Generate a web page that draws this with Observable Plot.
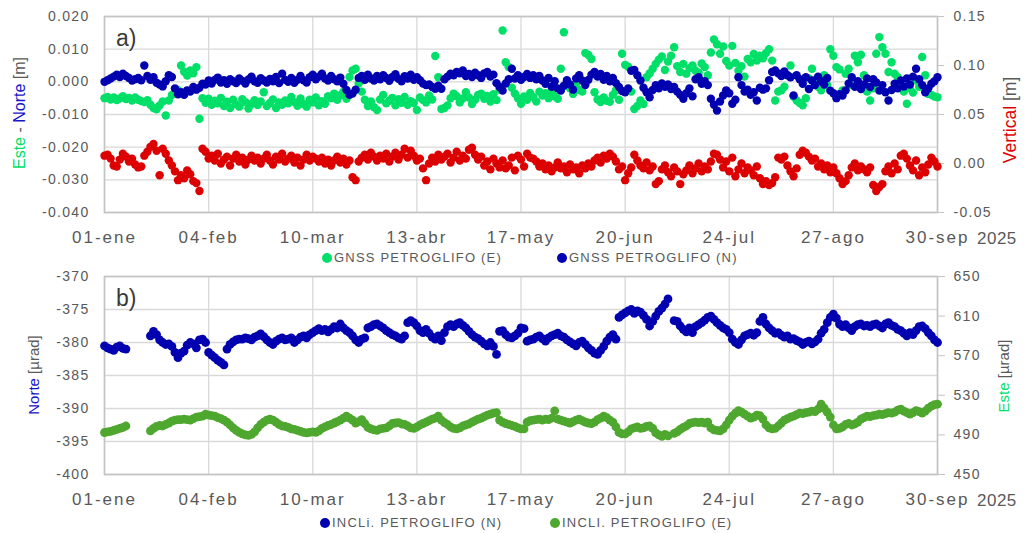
<!DOCTYPE html>
<html><head><meta charset="utf-8">
<script src="https://cdn.jsdelivr.net/npm/d3@7"></script>
<script src="https://cdn.jsdelivr.net/npm/@observablehq/plot@0.6"></script>
<style>
body{margin:0;background:#fff;font-family:"Liberation Sans",Arial,sans-serif;}
#wrap{position:relative;width:1026px;height:533px;overflow:hidden;background:#fff;}
.panel{position:absolute;left:0;}
.ov{position:absolute;white-space:nowrap;color:#595959;}
.rot{transform:translate(-50%,-50%) rotate(-90deg);}
.leg{position:absolute;font-size:13px;letter-spacing:1.2px;color:#595959;line-height:14px;transform:translateY(-50%);white-space:nowrap;}
.dotk{position:absolute;width:10px;height:10px;border-radius:50%;transform:translate(-50%,-50%);}
</style>
</head><body>
<div id="wrap"></div>
<script>
// ---------- x axis ----------
const tickDates = ["2025-01-01","2025-02-04","2025-03-10","2025-04-13","2025-05-17","2025-06-20","2025-07-24","2025-08-27","2025-09-30"];
const tickLabels = ["01-ene","04-feb","10-mar","13-abr","17-may","20-jun","24-jul","27-ago","30-sep"];

// ---------- panel a: GNSS (mm; E and N on left axis, Vertical on right axis) ----------
const gnssE = [
-5.0,-4.6,-5.4,-4.8,-5.6,-5.1,-4.4,-5.3,-4.9,-5.7,
-4.8,-5.5,-5.9,-6.2,-5.6,-7.0,-8.0,-8.4,-7.2,-6.0,
-10.3,-5.7,-4.0,-3.2,-2.5,5.0,3.1,1.9,3.5,2.6,
4.5,-11.3,-5.0,-6.4,-5.2,-7.0,-5.8,-6.6,-4.9,-7.4,
-6.1,-8.0,-5.5,-6.9,-7.6,-5.3,-6.2,-8.2,-6.8,-5.6,
-7.1,-6.0,-3.2,-7.4,-6.5,-5.4,-8.0,-6.3,-7.0,-5.7,
-6.6,-4.6,-6.2,-7.3,-5.1,-6.8,-7.6,-5.5,-6.3,-4.8,
-7.2,-5.9,-6.7,-4.4,-5.0,-3.6,-5.5,-4.1,-3.0,-5.2,
1.5,3.5,4.0,-0.5,-3.0,-5.5,-7.4,-6.0,-7.8,-8.6,
-5.4,-4.0,-6.6,-5.8,-4.9,-7.2,-5.3,-6.4,-4.6,-7.0,
-5.9,-6.5,-8.6,-4.8,-5.6,-6.3,-4.2,-5.4,7.9,1.4,
-8.3,-8.0,-7.2,-5.0,-3.6,-4.4,-6.3,-5.1,-3.2,-4.8,
-6.8,-5.5,-4.0,-3.6,-5.2,-4.3,-6.0,-3.8,-5.6,-2.4,
15.7,6.0,4.5,-1.8,-3.6,-5.0,-6.7,-4.5,-5.5,-3.4,
-4.6,-6.0,-3.0,-4.2,-3.5,-5.0,-2.8,-4.4,-5.2,4.0,
15.2,-0.5,-2.0,-3.7,-1.2,-2.5,-3.0,8.8,8.2,7.0,
-3.2,-5.4,-6.2,-4.8,-5.8,-6.1,-4.0,-2.6,-5.5,8.6,
5.2,4.6,-3.0,-8.3,-7.4,-5.7,-6.8,1.4,2.6,4.0,
5.5,6.8,7.8,3.6,6.2,8.0,10.6,4.8,3.0,5.5,
2.5,4.2,5.0,3.4,2.8,5.6,4.5,2.0,9.0,13.0,
11.5,8.6,10.8,6.4,5.0,11.0,5.8,3.4,4.8,1.6,
7.0,6.0,8.5,6.5,8.0,7.2,8.8,10.0,6.5,-5.7,
-3.0,-2.6,-1.5,2.0,5.0,-4.5,-5.7,-6.5,-7.2,-5.0,
1.0,4.0,0.5,-1.5,-2.6,2.0,-1.0,10.0,8.0,4.5,
3.8,-2.6,2.5,4.0,-1.0,8.0,6.0,8.3,2.0,-3.0,
-5.7,-2.0,8.6,13.7,10.6,8.6,3.0,6.0,2.5,1.4,
-1.5,-3.0,-6.7,-2.0,-3.3,0.5,-1.5,7.6,2.0,-3.7,
-4.0,-4.5,-4.7];

const gnssN = [
0.0,0.5,1.0,1.6,2.2,1.5,2.5,1.8,1.2,0.4,
0.8,1.2,0.5,5.0,1.8,0.6,1.4,-0.3,-0.8,-1.4,
0.2,2.0,1.5,-2.0,-3.8,-3.2,-4.0,-2.6,-3.0,-1.6,
-2.4,-1.8,-0.6,-0.8,0.4,-0.5,0.6,1.3,-0.2,0.5,
-0.6,0.8,0.2,-0.4,1.0,0.3,-0.5,0.7,1.6,0.2,
-0.3,1.1,0.4,-0.2,0.9,0.2,1.5,-0.4,2.5,0.6,
0.0,1.2,-0.3,0.6,1.8,0.5,-0.2,1.4,2.2,0.8,
1.6,2.5,1.0,0.4,1.8,0.8,0.2,1.3,-0.6,-2.5,
-4.0,-3.6,-2.4,1.2,1.8,0.6,2.2,1.0,0.4,1.8,
0.8,2.0,1.2,0.3,1.5,2.3,0.9,0.2,1.7,1.0,
2.2,0.6,1.4,0.5,-0.5,-1.0,-0.8,-1.6,-2.1,-1.2,
-2.1,0.8,1.6,2.5,2.0,3.0,2.6,3.5,1.8,2.4,
1.5,2.8,2.0,1.2,2.6,3.0,1.6,2.2,-0.4,-1.6,
-2.7,-0.5,0.8,4.0,1.0,2.0,0.6,1.5,2.4,1.2,
2.0,0.8,1.8,0.4,-0.6,1.2,-1.5,0.2,-2.0,-2.7,
-1.2,0.5,-0.8,-2.4,1.0,2.0,0.4,-1.0,0.6,2.2,
3.0,1.6,2.4,0.6,1.8,0.2,1.2,-0.4,-1.6,-2.8,
-3.2,-2.0,3.4,3.6,2.0,0.4,-1.8,-3.2,-4.7,-2.5,
-1.0,-2.0,-0.5,-1.5,-0.8,-2.2,-1.6,-3.0,-4.0,-5.2,
-3.5,-2.0,-4.4,0.8,1.4,-0.6,0.2,-1.0,-5.2,-7.0,
-8.8,-6.0,-4.2,-2.6,-3.5,-6.7,-5.5,1.4,-1.0,-3.0,
-2.4,-4.0,-3.2,-5.7,-1.8,-2.4,-2.0,0.5,3.0,3.5,
2.6,1.8,3.2,2.0,1.4,-4.2,2.0,0.8,-0.6,1.4,
-2.2,0.4,-1.0,1.6,0.2,-0.8,1.2,-2.7,-3.5,-5.0,
-3.8,-4.2,-2.6,-0.5,1.4,-1.5,0.2,-2.2,-0.8,1.0,
-1.6,0.8,-0.2,-2.7,-1.0,-3.2,-5.7,-2.5,-0.6,-2.0,
0.4,-1.4,1.0,-0.8,1.6,4.0,0.8,-1.0,-3.2,-2.0,
-0.6,0.2,1.4];

const gnssV = [
8,9,5,-2,-3,4,10,7,2,5,
-1,-4,-3,8,12,17,20,13,-12,15,
10,3,-2,-8,-17,-12,-15,-7,-11,-18,
-20,-28,15,12,5,8,3,10,0,4,
7,-2,5,9,2,6,-1,4,8,3,
6,0,5,9,3,-1,7,4,10,2,
5,8,1,6,-2,4,9,3,7,5,
2,6,0,4,-2,3,7,1,5,-1,
3,-14,-17,2,6,9,4,11,7,3,
8,5,10,2,7,11,4,9,15,6,
13,8,3,5,-5,-17,0,6,2,9,
4,7,10,1,6,12,3,8,5,14,
16,9,4,7,-2,2,-6,5,0,-4,
3,-5,-2,6,-7,8,4,-3,10,6,
5,2,-3,0,-6,-2,-8,-4,1,-5,
-3,-9,-1,-6,-4,-10,-2,-5,0,-3,
3,6,1,8,5,10,7,2,-6,-3,
-17,-10,-4,9,3,-2,-5,1,-7,-3,
-21,-18,-6,-2,-9,-13,-4,-8,-21,-11,
-7,-2,-10,-5,0,-8,-3,-6,2,10,
9,4,-4,2,-8,6,-13,-6,0,-10,
-4,-7,-12,-3,-15,-21,-18,-22,-20,-14,
6,4,7,-2,-8,-13,-5,9,13,11,
7,3,5,-3,0,-6,-2,-9,-4,-10,
-15,-21,-18,-12,-4,0,-7,-3,-6,-9,
-4,-22,-28,-24,-21,-8,-3,-10,0,-6,
8,10,5,-2,-7,3,-12,-4,-9,-1,
6,2,-3];

const leftTicksA = [-0.040,-0.030,-0.020,-0.010,0.000,0.010,0.020];
const rightTicksA = [-0.05,0.00,0.05,0.10,0.15];

// ---------- panel b: inclinometer (µrad; N left axis, E right axis) ----------
const inclN = [
-380.5,-380.8,-381.0,-381.2,-380.7,-380.5,-380.9,-381.0,null,null,
null,null,null,null,null,-379.0,-378.3,-378.8,-379.6,-380.0,
-380.3,-380.2,-380.6,-381.5,-382.3,-381.6,-381.3,-380.4,-380.0,-380.2,
-380.8,-379.6,-379.5,-380.0,-381.5,-381.9,-382.3,-382.7,-383.0,-383.4,
-381.0,-380.3,-379.9,-379.6,-379.5,-379.5,-379.3,-379.4,-379.6,-379.2,
-379.0,-378.7,-379.1,-379.6,-380.0,-380.3,-379.8,-379.5,-379.3,-379.6,
-379.5,-379.3,-380.0,-379.6,-379.2,-379.0,-379.3,-378.8,-378.5,-378.2,
-377.9,-378.2,-378.0,-378.4,-378.0,-377.6,-377.8,-377.2,-377.8,-378.2,
-378.5,-379.0,-379.6,-380.0,-379.5,-379.3,-377.8,-377.6,-377.3,-377.2,
-377.5,-377.8,-378.2,-378.5,-378.8,-379.0,-379.3,-379.5,-379.0,-377.0,
-376.7,-377.0,-377.5,-378.2,-378.5,-378.0,-378.6,-379.2,-379.5,-379.0,
-379.7,-378.5,-377.6,-377.3,-377.6,-377.2,-377.0,-377.4,-377.8,-378.3,
-378.8,-379.2,-379.4,-379.8,-380.2,-380.5,-380.0,-380.6,-381.8,-378.3,
-378.2,-378.8,-379.2,-379.3,-379.0,-378.6,-377.8,-377.9,-379.8,-379.6,
-379.5,-379.2,-379.0,-379.4,-379.8,-379.3,-379.0,-378.8,-378.6,-379.0,
-379.2,-379.6,-379.9,-380.2,-380.5,-380.0,-379.8,-380.3,-380.8,-381.2,
-381.6,-381.8,-381.2,-380.6,-379.8,-379.2,-378.8,-379.5,-376.2,-375.8,
-375.5,-375.2,-375.0,-375.6,-375.2,-375.4,-375.9,-376.5,-377.5,-376.8,
-376.0,-375.3,-374.8,-374.2,-373.4,null,-376.7,-376.8,-377.5,-378.0,
-378.4,-377.8,-378.5,-377.6,-377.3,-377.0,-376.6,-376.2,-376.0,-376.5,
-377.0,-377.4,-377.8,-378.0,-378.5,-379.5,-380.0,-380.3,-379.6,-379.0,
-378.8,-378.6,-378.9,-378.5,-376.8,-376.2,-377.2,-377.8,-378.2,-378.6,
-378.5,-378.9,-379.2,-379.0,-379.5,-379.4,-379.7,-379.9,-380.3,-380.0,
-379.8,-380.2,-379.9,-379.5,-378.6,-378.0,-377.0,-376.2,-375.7,-376.3,
-377.2,-377.6,-377.3,-377.8,-378.2,-377.6,-377.3,-377.2,-377.5,-377.4,
-377.6,-377.3,-377.2,-377.5,-377.8,-377.2,-377.0,-377.4,-377.6,-378.0,
-378.2,-378.6,-379.0,-378.5,-378.8,-378.2,-377.6,-377.5,-377.9,-378.5,
-379.0,-379.6,-380.0];

const inclE = [
492.4,493.0,493.5,494.5,495.5,496.5,497.5,499.0,null,null,
null,null,null,null,null,494.0,496.5,498.5,499.5,499.0,
500.5,502.0,504.0,505.0,505.5,505.5,506.0,505.5,505.0,506.5,
508.0,508.5,509.0,511.0,510.0,509.5,509.0,507.5,506.5,505.0,
503.0,500.0,497.0,494.5,492.5,491.0,490.0,489.5,490.5,493.0,
497.0,500.5,503.0,505.0,506.0,505.0,503.0,500.5,499.0,498.5,
497.5,496.0,495.5,494.5,493.5,492.5,492.0,492.5,493.0,492.5,
494.0,496.5,498.0,499.5,500.5,502.0,503.5,505.0,507.0,509.0,
507.0,505.0,502.0,503.5,505.5,501.5,497.5,496.0,495.0,494.5,
496.0,496.5,497.0,499.0,501.5,502.0,502.5,501.0,500.5,499.0,
497.0,496.5,498.0,500.0,501.5,503.0,504.5,506.0,507.0,509.0,
505.0,502.5,500.5,498.0,496.5,496.0,497.0,499.0,500.0,501.0,
503.0,504.5,506.0,507.0,508.5,510.0,511.0,512.0,512.6,505.0,
503.0,501.5,500.5,499.5,498.5,497.0,496.0,496.0,503.0,504.5,
505.0,505.5,506.0,505.0,506.0,505.5,507.0,514.3,506.0,505.0,
504.0,503.0,502.0,503.5,505.0,506.0,504.5,503.0,502.0,501.5,
503.0,505.5,507.0,509.0,507.5,505.0,503.0,498.0,492.5,491.0,
491.0,493.0,496.0,497.0,498.0,496.5,497.0,498.5,499.0,496.5,
492.0,490.0,488.5,490.5,489.0,null,491.5,493.0,495.5,497.5,
499.0,501.5,502.5,503.0,502.5,503.0,502.0,503.0,497.0,495.0,
494.5,494.0,496.0,500.0,505.0,509.0,512.0,514.5,513.0,511.0,
509.0,507.0,508.0,510.0,509.5,506.0,500.0,497.0,496.0,496.5,
499.0,502.0,505.0,506.5,508.0,509.0,510.5,512.0,511.5,512.5,
513.0,514.0,513.5,516.0,521.0,517.0,513.0,508.0,500.0,496.0,
496.5,498.0,500.5,501.5,500.0,501.0,503.0,506.0,507.5,509.0,
508.5,509.5,510.0,511.0,510.5,511.5,512.5,512.0,513.0,515.0,
516.0,514.0,512.5,511.0,512.5,514.5,513.5,512.0,514.0,517.0,
519.0,520.5,521.0];

const leftTicksB = [-400,-395,-390,-385,-380,-375,-370];
const rightTicksB = [450,490,530,570,610,650];

// ---------- helpers ----------
const start = Date.UTC(2025,0,1);
const toRows = arr => arr.map((v,i)=>({date:new Date(start+i*864e5), v})).filter(d=>d.v!=null);
const xTicks = tickDates.map(s=>new Date(s+"T00:00:00Z"));
const labelOf = new Map(xTicks.map((d,i)=>[+d, tickLabels[i]]));
const xDomain = [xTicks[0], xTicks[xTicks.length-1]];

// dual-axis mappings (right axis -> left axis coordinates)
const toLeftA = v => -0.040 + (v + 0.05) * 0.3;
const fromLeftA = y => (y + 0.040) / 0.3 - 0.05;
const toLeftB = v => -400 + (v - 450) * 30 / 200;
const fromLeftB = y => 450 + (y + 400) * 200 / 30;

const C = {gE:"#00e068", bN:"#0000b0", red:"#dd0000", gB:"#4ea72e", grid:"#d9d9d9", frame:"#c4c4c4", txt:"#595959"};
const common = {
  width:1026, height:250, marginLeft:104, marginRight:89, marginTop:16,
  style:{fontFamily:"Liberation Sans, Arial, sans-serif", background:"transparent", overflow:"visible", color:C.txt}
};
const xAxis = () => Plot.axisX({ticks:xTicks, tickSize:0, tickPadding:18, tickFormat:d=>labelOf.get(+d), fontSize:17, fill:C.txt, label:null});

const plotA = Plot.plot({
  ...common, marginBottom:38,
  x:{type:"utc", domain:xDomain},
  y:{domain:[-0.040,0.020]},
  marks:[
    Plot.gridX({ticks:xTicks, stroke:C.grid, strokeOpacity:1, strokeWidth:1.3}),
    Plot.gridY({ticks:leftTicksA, stroke:C.grid, strokeOpacity:1, strokeWidth:1.3}),
    Plot.frame({stroke:C.frame, strokeWidth:1.6}),
    xAxis(),
    Plot.axisY({ticks:leftTicksA, anchor:"left", tickSize:0, tickPadding:15, tickFormat:d=>d.toFixed(3), fontSize:14, fill:C.txt, label:null}),
    Plot.axisY({ticks:rightTicksA.map(toLeftA), anchor:"right", tickSize:6, tickPadding:10, stroke:C.frame,
      tickFormat:d=>{const v=Math.round(fromLeftA(d)*100)/100; return (v===0?0:v).toFixed(2);}, fontSize:14, fill:C.txt, label:null}),
    Plot.dot(toRows(gnssE), {x:"date", y:d=>d.v/1000, r:4.2, fill:C.gE}),
    Plot.dot(toRows(gnssN), {x:"date", y:d=>d.v/1000, r:4.2, fill:C.bN}),
    Plot.dot(toRows(gnssV), {x:"date", y:d=>toLeftA(d.v/1000), r:4.2, fill:C.red})
  ]
});

const plotB = Plot.plot({
  ...common, marginBottom:36,
  x:{type:"utc", domain:xDomain},
  y:{domain:[-400,-370]},
  marks:[
    Plot.gridX({ticks:xTicks, stroke:C.grid, strokeOpacity:1, strokeWidth:1.3}),
    Plot.gridY({ticks:leftTicksB, stroke:C.grid, strokeOpacity:1, strokeWidth:1.3}),
    Plot.frame({stroke:C.frame, strokeWidth:1.6}),
    xAxis(),
    Plot.axisY({ticks:leftTicksB, anchor:"left", tickSize:0, tickPadding:15, tickFormat:d=>String(d), fontSize:14, fill:C.txt, label:null}),
    Plot.axisY({ticks:rightTicksB.map(toLeftB), anchor:"right", tickSize:7, tickPadding:9, stroke:C.frame,
      tickFormat:d=>String(Math.round(fromLeftB(d))), fontSize:14, fill:C.txt, label:null}),
    Plot.dot(toRows(inclN), {x:"date", y:"v", r:4.4, fill:C.bN}),
    Plot.dot(toRows(inclE), {x:"date", y:d=>toLeftB(d.v), r:4.4, fill:C.gB})
  ]
});

const wrap = document.getElementById("wrap");
function addPanel(svg, top){
  const div = document.createElement("div");
  div.className = "panel"; div.style.top = top + "px";
  div.appendChild(svg); wrap.appendChild(div);
  d3.select(svg).selectAll('g[aria-label="x-axis tick label"] text').style("letter-spacing","2px");
  d3.select(svg).selectAll('g[aria-label="y-axis tick label"] text').style("letter-spacing","1.3px");
}
addPanel(plotA, 0);
addPanel(plotB, 260);

function ov(html, css){
  const d = document.createElement("div");
  d.className = "ov"; d.innerHTML = html;
  Object.assign(d.style, css); wrap.appendChild(d); return d;
}
// panel labels
ov("a)", {left:"116px", top:"25px", fontSize:"23px", color:"#3a3a3a"});
ov("b)", {left:"116px", top:"285px", fontSize:"23px", color:"#3a3a3a"});
// year
ov("2025", {left:"977px", top:"229px", fontSize:"17px", letterSpacing:"0.5px"});
ov("2025", {left:"977px", top:"491px", fontSize:"17px", letterSpacing:"0.5px"});
// axis titles
ov(`<span style="color:${C.gE}">Este</span> - <span style="color:#1414c8">Norte</span> [m]`, {left:"20px", top:"113px", fontSize:"16px"}).classList.add("rot");
ov(`<span style="color:${C.red}">Vertical</span> [m]`, {left:"1010px", top:"120px", fontSize:"17.5px"}).classList.add("rot");
ov(`<span style="color:#1414c8">Norte</span> [µrad]`, {left:"33px", top:"375px", fontSize:"15px"}).classList.add("rot");
ov(`<span style="color:${C.gE}">Este</span> [µrad]`, {left:"1003px", top:"376px", fontSize:"15px"}).classList.add("rot");

// legends
function legend(cx, cy, color, text){
  const k = document.createElement("div"); k.className="dotk";
  Object.assign(k.style, {left:cx+"px", top:cy+"px", background:color}); wrap.appendChild(k);
  const t = document.createElement("div"); t.className="leg"; t.textContent=text;
  Object.assign(t.style, {left:(cx+7)+"px", top:cy+"px"}); wrap.appendChild(t);
}
legend(327, 258, C.gE, "GNSS PETROGLIFO (E)");
legend(562, 258, C.bN, "GNSS PETROGLIFO (N)");
legend(325, 523, C.bN, "INCLi. PETROGLIFO (N)");
legend(555, 523, C.gB, "INCLI. PETROGLIFO (E)");
</script>
</body></html>
